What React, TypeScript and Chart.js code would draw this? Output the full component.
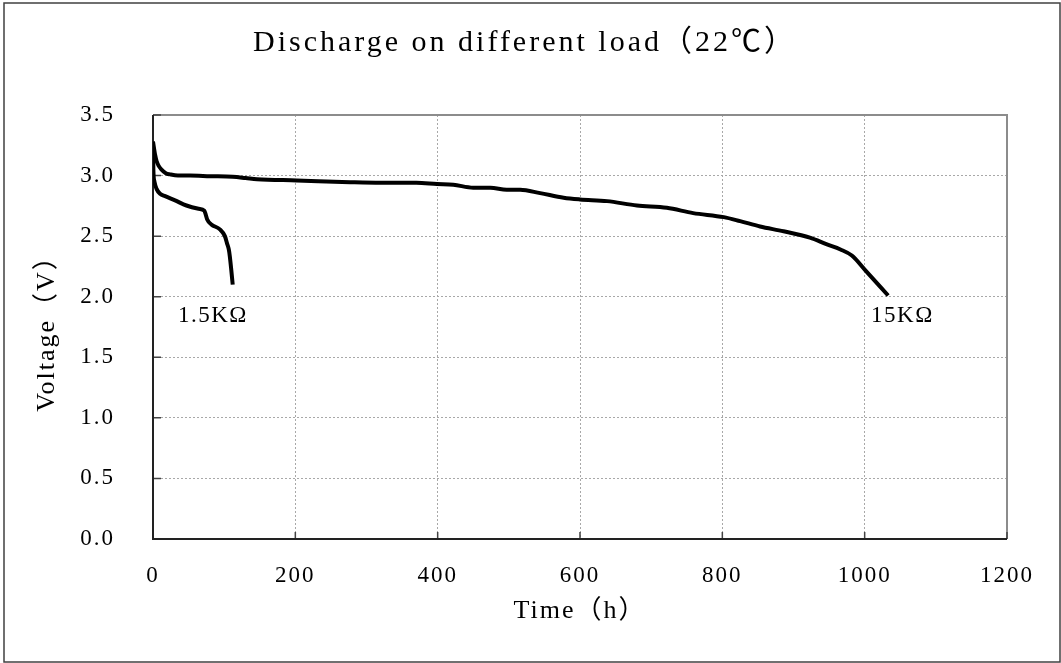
import React, { useEffect, useRef } from "react";
import { Chart, registerables } from "chart.js";

Chart.register(...registerables);

const chartTitle = "Discharge on different load（22℃）";
const xTitle = "Time（h）";
const yTitle = "Voltage（V）";

const xTicksMin = 0;
const xTicksMax = 1200;
const xTickStep = 200;
const yTicksMin = 0;
const yTicksMax = 3.5;
const yTickStep = 0.5;

// 15 KΩ load
const load15kTime = [0, 3, 5, 8, 12, 18, 24, 35, 52, 80, 112, 130, 146, 202, 277, 320, 370, 399, 422, 450, 474, 497, 516, 544, 577, 600, 638, 680, 722, 759, 802, 825, 853, 886, 923, 947, 966, 982, 1001, 1033];
const load15kVolt = [3.28, 3.17, 3.12, 3.08, 3.05, 3.02, 3.01, 3.0, 3.0, 2.995, 2.99, 2.98, 2.97, 2.96, 2.945, 2.94, 2.94, 2.93, 2.924, 2.9, 2.9, 2.883, 2.883, 2.855, 2.817, 2.803, 2.789, 2.753, 2.734, 2.69, 2.657, 2.624, 2.58, 2.54, 2.487, 2.432, 2.39, 2.34, 2.218, 2.01];

// 1.5 KΩ load
const load1k5Time = [0, 0.5, 2, 5, 10, 17, 31, 47, 64, 72, 74, 76, 82, 94, 101, 104, 106.5, 108, 110, 112];
const load1k5Volt = [3.28, 3.05, 2.95, 2.89, 2.85, 2.83, 2.795, 2.753, 2.726, 2.71, 2.68, 2.64, 2.597, 2.556, 2.5, 2.44, 2.39, 2.33, 2.22, 2.1];

const curveLabels = ["1.5KΩ", "15KΩ"];
const curveLabelTime = [35, 1009];
const curveLabelVolt = [1.84, 1.84];

const FONT = "'Liberation Serif', 'Noto Sans CJK SC', serif";

const decorPlugin = {
  id: "decor",
  beforeDraw(chart: any) {
    const ctx = chart.ctx;
    try { ctx.letterSpacing = "2px"; } catch (e) {}
    ctx.save();
    ctx.strokeStyle = "#404040";
    ctx.lineWidth = 1.5;
    ctx.strokeRect(4, 3, 1056, 659);
    ctx.restore();
  },
  beforeDatasetsDraw(chart: any) {
    const { ctx, chartArea, scales } = chart;
    const { left, right, top, bottom } = chartArea;
    const xs = scales.x;
    const ys = scales.y;
    ctx.save();
    ctx.setLineDash([]);
    ctx.lineWidth = 2;
    ctx.strokeStyle = "#8c8c8c";
    ctx.beginPath();
    ctx.moveTo(left, top);
    ctx.lineTo(right, top);
    ctx.lineTo(right, bottom);
    ctx.stroke();
    ctx.strokeStyle = "#444";
    ctx.lineWidth = 1.5;
    ctx.beginPath();
    xs.ticks.forEach((t: any) => {
      const px = xs.getPixelForValue(t.value);
      ctx.moveTo(px, bottom);
      ctx.lineTo(px, bottom - 7);
    });
    ys.ticks.forEach((t: any) => {
      const py = ys.getPixelForValue(t.value);
      ctx.moveTo(left, py);
      ctx.lineTo(left + 8, py);
    });
    ctx.stroke();
    ctx.strokeStyle = "#222";
    ctx.lineWidth = 2;
    ctx.beginPath();
    ctx.moveTo(left, top);
    ctx.lineTo(left, bottom);
    ctx.lineTo(right, bottom);
    ctx.stroke();
    ctx.restore();
  },
  afterDraw(chart: any) {
    const { ctx, scales } = chart;
    ctx.save();
    ctx.fillStyle = "#000";
    try { ctx.letterSpacing = "3px"; } catch (e) {}
    ctx.font = `30px ${FONT}`;
    ctx.textAlign = "center";
    ctx.textBaseline = "middle";
    ctx.fillText(chartTitle, 525, 43);
    try { ctx.letterSpacing = "1.5px"; } catch (e) {}
    ctx.font = `23px ${FONT}`;
    ctx.textAlign = "left";
    curveLabels.forEach((txt, i) => {
      const px = scales.x.getPixelForValue(curveLabelTime[i]);
      const py = scales.y.getPixelForValue(curveLabelVolt[i]);
      ctx.fillText(txt, px, py);
    });
    ctx.restore();
  },
};

export default function App() {
  const ref = useRef<HTMLCanvasElement | null>(null);

  useEffect(() => {
    if (!ref.current) return;
    const ds = (t: number[], v: number[], label: string) => ({
      label,
      data: t.map((x, i) => ({ x, y: v[i] })),
      borderColor: "#000",
      backgroundColor: "#000",
      borderWidth: 4,
      pointRadius: 0,
      cubicInterpolationMode: "monotone" as const,
      borderJoinStyle: "round" as const,
      fill: false,
    });
    const chart = new Chart(ref.current, {
      type: "line",
      data: {
        datasets: [
          ds(load15kTime, load15kVolt, curveLabels[1]),
          ds(load1k5Time, load1k5Volt, curveLabels[0]),
        ],
      },
      options: {
        animation: false,
        responsive: false,
        devicePixelRatio: 1,
        layout: { padding: { left: 0, right: 54, top: 115, bottom: 0 } },
        plugins: {
          legend: { display: false },
          title: { display: false },
          tooltip: { enabled: false },
        },
        scales: {
          x: {
            type: "linear",
            min: xTicksMin,
            max: xTicksMax,
            ticks: {
              stepSize: xTickStep,
              padding: 23,
              color: "#000",
              font: { family: FONT, size: 23 },
              maxRotation: 0,
              callback: (v: any) => String(v),
            },
            grid: { color: "#a8a8a8", lineWidth: 1, drawTicks: false },
            border: { display: false, dash: [2, 2] },
            title: {
              display: true,
              text: xTitle,
              color: "#000",
              font: { family: FONT, size: 26 },
              padding: { top: 0, bottom: 36 },
            },
            afterFit: (s: any) => {
              s.height = 124;
            },
          },
          y: {
            type: "linear",
            min: yTicksMin,
            max: yTicksMax,
            ticks: {
              stepSize: yTickStep,
              padding: 38,
              color: "#000",
              font: { family: FONT, size: 23 },
              callback: (v: any) => Number(v).toFixed(1),
            },
            grid: { color: "#a8a8a8", lineWidth: 1, drawTicks: false },
            border: { display: false, dash: [2, 2] },
            title: {
              display: true,
              text: yTitle,
              color: "#000",
              font: { family: FONT, size: 26 },
              padding: { top: 32, bottom: 0 },
            },
            afterFit: (s: any) => {
              s.width = 153;
            },
          },
        },
      },
      plugins: [decorPlugin],
    });
    return () => chart.destroy();
  }, []);

  return (
    <div style={{ position: "fixed", left: 0, top: 0, width: 1061, height: 663, background: "#fff" }}>
      <canvas ref={ref} width={1061} height={663} style={{ display: "block", width: 1061, height: 663 }} />
    </div>
  );
}
